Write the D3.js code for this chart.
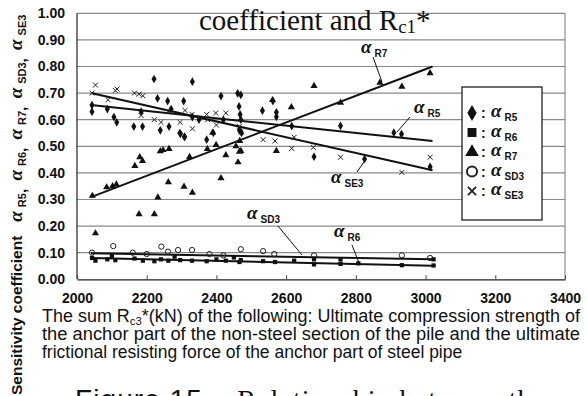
<!DOCTYPE html>
<html><head><meta charset="utf-8">
<script src="https://cdn.jsdelivr.net/npm/d3@7"></script>
<style>body{margin:0;background:#fff}svg{display:block}</style>
</head><body>
<svg id="c" width="587" height="396"></svg>
<script>
// ---------- data ----------
const xTicks = [2000, 2200, 2400, 2600, 2800, 3000, 3200, 3400];
const yTicks = [0, 0.1, 0.2, 0.3, 0.4, 0.5, 0.6, 0.7, 0.8, 0.9, 1.0];

const r5Points = [[2043,0.63],[2087,0.64],[2106,0.61],[2114,0.59],[2163,0.574],[2188,0.574],[2184,0.63],[2221,0.753],[2231,0.68],[2239,0.56],[2260,0.67],[2264,0.574],[2270,0.64],[2295,0.55],[2306,0.67],[2308,0.535],[2331,0.743],[2331,0.61],[2350,0.60],[2372,0.525],[2391,0.55],[2413,0.689],[2420,0.60],[2461,0.699],[2470,0.693],[2465,0.65],[2468,0.62],[2470,0.60],[2466,0.56],[2472,0.55],[2532,0.634],[2562,0.67],[2572,0.628],[2572,0.611],[2616,0.576],[2756,0.577],[2909,0.551],[2931,0.546],[2680,0.461],[2825,0.452],[3013,0.423],[2297,0.547],[2309,0.536],[2043,0.655]];
const r6Points = [[2043,0.08],[2053,0.07],[2087,0.075],[2110,0.072],[2165,0.078],[2189,0.07],[2222,0.068],[2241,0.075],[2262,0.07],[2296,0.072],[2330,0.07],[2372,0.068],[2400,0.075],[2427,0.07],[2466,0.065],[2470,0.072],[2534,0.068],[2568,0.065],[2623,0.07],[2680,0.056],[2756,0.058],[2807,0.06],[2932,0.053],[3023,0.052],[2100,0.088],[2280,0.085],[2450,0.082],[2680,0.075],[2756,0.075],[3023,0.075]];
const r7Points = [[2044,0.314],[2053,0.173],[2085,0.346],[2102,0.35],[2113,0.357],[2166,0.426],[2180,0.459],[2188,0.445],[2178,0.245],[2222,0.245],[2232,0.308],[2239,0.482],[2247,0.486],[2264,0.49],[2262,0.365],[2307,0.348],[2331,0.326],[2323,0.46],[2374,0.49],[2399,0.505],[2413,0.38],[2427,0.467],[2456,0.50],[2466,0.48],[2470,0.483],[2462,0.44],[2467,0.52],[2389,0.551],[2561,0.674],[2615,0.647],[2572,0.483],[2680,0.727],[2756,0.664],[2869,0.739],[2932,0.724],[3013,0.775]];
const sd3Points = [[2043,0.10],[2104,0.125],[2160,0.10],[2200,0.095],[2242,0.123],[2261,0.104],[2290,0.11],[2330,0.11],[2380,0.095],[2420,0.09],[2470,0.113],[2534,0.106],[2566,0.095],[2680,0.09],[2932,0.09],[3013,0.08]];
const se3Points = [[2043,0.70],[2053,0.73],[2089,0.675],[2110,0.71],[2115,0.715],[2165,0.70],[2178,0.696],[2189,0.69],[2184,0.616],[2222,0.60],[2241,0.59],[2262,0.63],[2296,0.59],[2310,0.635],[2330,0.62],[2331,0.566],[2372,0.62],[2375,0.60],[2398,0.625],[2400,0.58],[2427,0.625],[2466,0.575],[2470,0.554],[2534,0.525],[2568,0.52],[2623,0.534],[2616,0.492],[2678,0.496],[2756,0.459],[2932,0.402],[3013,0.459]];

const trendR5  = [[2040,0.655],[3020,0.52]];
const trendR6  = [[2040,0.080],[3020,0.051]];
const trendR7  = [[2040,0.309],[3020,0.80]];
const trendSD3 = [[2040,0.098],[3020,0.075]];
const trendSE3 = [[2040,0.700],[3020,0.41]];

const legendKeys = ["R5","R6","R7","SD3","SE3"];

// ---------- drawing ----------
const svg = d3.select("#c");
svg.append("rect").attr("width",587).attr("height",396).attr("fill","#fff");

const x = d3.scaleLinear().domain([2000,3400]).range([77,565]);
const y = d3.scaleLinear().domain([0,1]).range([279.3,13.3]);

const sans = "'Liberation Sans', Arial, sans-serif";
const serif = "'Liberation Serif', 'Times New Roman', serif";

// gridlines
svg.append("g").selectAll("line").data(yTicks.filter(d=>d>0)).join("line")
  .attr("x1",x(2000)).attr("x2",x(3400)).attr("y1",d=>y(d)).attr("y2",d=>y(d))
  .attr("stroke","#8a8a8a").attr("stroke-width",1.2);

// frame
svg.append("line").attr("x1",x(3400)).attr("x2",x(3400)).attr("y1",y(1)).attr("y2",y(0)).attr("stroke","#777").attr("stroke-width",1);
svg.append("line").attr("x1",x(2000)).attr("x2",x(2000)).attr("y1",y(1)).attr("y2",y(0)).attr("stroke","#333").attr("stroke-width",1.3);

// x axis
const xAxis = d3.axisBottom(x).tickValues(xTicks).tickSizeInner(-4).tickSizeOuter(0).tickPadding(14).tickFormat(d3.format("d"));
const gx = svg.append("g").attr("transform",`translate(0,${y(0)})`).call(xAxis);
gx.select(".domain").attr("stroke","#222").attr("stroke-width",1.3);
gx.selectAll(".tick line").attr("stroke","#444");
gx.selectAll(".tick text").attr("font-family",sans).attr("font-weight","bold").attr("font-size",14).attr("fill","#111");

// y axis labels
const yAxis = d3.axisLeft(y).tickValues(yTicks).tickSize(0).tickPadding(12).tickFormat(d3.format(".2f"));
const gy = svg.append("g").attr("transform",`translate(${x(2000)},0)`).call(yAxis);
gy.select(".domain").remove();
gy.selectAll(".tick text").attr("font-family",sans).attr("font-weight","bold").attr("font-size",14).attr("fill","#111");

// trend lines
const line = d3.line().x(d=>x(d[0])).y(d=>y(d[1]));
[trendR5,trendR6,trendR7,trendSD3,trendSE3].forEach(t=>{
  svg.append("path").attr("d",line(t)).attr("fill","none").attr("stroke","#111").attr("stroke-width",2);
});

// markers
function sym(type,size){return d3.symbol().type(type).size(size)();}
const markerDefs = {
  R5: {type:d3.symbolDiamond, size:22, fill:"#111", stroke:"none"},
  R6: {type:d3.symbolSquare, size:18, fill:"#111", stroke:"none"},
  R7: {type:d3.symbolTriangle, size:22, fill:"#111", stroke:"none"},
  SD3:{type:d3.symbolCircle, size:22, fill:"none", stroke:"#222"},
  SE3:{type:d3.symbolTimes, size:18, fill:"none", stroke:"#222"}
};
const seriesPts = {R5:r5Points,R6:r6Points,R7:r7Points,SD3:sd3Points,SE3:se3Points};
["R7","SD3","R6","SE3","R5"].forEach(k=>{
  const m = markerDefs[k];
  svg.append("g").selectAll("path").data(seriesPts[k]).join("path")
    .attr("transform",d=>`translate(${x(d[0])},${y(d[1])})`)
    .attr("d",sym(m.type,m.size)).attr("fill",m.fill).attr("stroke",m.stroke).attr("stroke-width",1);
});

// alpha label helper
function alphaLabel(g, px, py, sub, size){
  const t = g.append("text").attr("x",px).attr("y",py).attr("fill","#111");
  t.append("tspan").attr("font-family",serif).attr("font-style","italic").attr("font-weight","bold").attr("font-size",size||19).text("α");
  t.append("tspan").attr("font-family",sans).attr("font-weight","bold").attr("font-size",10).attr("dx",3).attr("dy",4).text(sub);
  return t;
}

// annotations
const ann = svg.append("g");
alphaLabel(ann, 361, 53, "R7");
ann.append("line").attr("x1",373).attr("y1",57).attr("x2",382).attr("y2",82).attr("stroke","#111").attr("stroke-width",1);
alphaLabel(ann, 414, 113, "R5");
ann.append("line").attr("x1",410).attr("y1",117).attr("x2",397).attr("y2",132).attr("stroke","#111").attr("stroke-width",1);
alphaLabel(ann, 331, 183, "SE3");
ann.append("line").attr("x1",357).attr("y1",172).attr("x2",366).attr("y2",159).attr("stroke","#111").attr("stroke-width",1);
alphaLabel(ann, 247, 219, "SD3");
ann.append("line").attr("x1",278).attr("y1",226).attr("x2",302).attr("y2",255).attr("stroke","#111").attr("stroke-width",1);
alphaLabel(ann, 334, 237, "R6");
ann.append("line").attr("x1",352).attr("y1",245).attr("x2",359).attr("y2",263).attr("stroke","#111").attr("stroke-width",1);

// legend
const lg = svg.append("g");
lg.append("rect").attr("x",462).attr("y",87).attr("width",80).attr("height",133).attr("fill","#fff").attr("stroke","#222").attr("stroke-width",1.3);
const legendSizes = {R5:75,R6:80,R7:80,SD3:80,SE3:45};
legendKeys.forEach((k,i)=>{
  const cy = 113 + i*19.5;
  const m = markerDefs[k];
  lg.append("path").attr("transform",`translate(472,${cy})`).attr("d",sym(m.type,legendSizes[k]))
    .attr("fill",m.fill).attr("stroke",m.stroke).attr("stroke-width",k==="SD3"?2:1.8);
  lg.append("text").attr("x",481).attr("y",cy+5).attr("font-family",sans).attr("font-weight","bold").attr("font-size",14).attr("fill","#111").text(":");
  alphaLabel(lg, 491, cy+4, k);
});

// title (partially visible)
const tt = svg.append("text").attr("x",199).attr("y",30).attr("font-family",serif).attr("font-size",29).attr("fill","#111");
tt.append("tspan").text("coefficient and R");
tt.append("tspan").attr("font-size",19).attr("dy",3).text("c1");
tt.append("tspan").attr("dy",-3).text("*");

// y axis title
const yt = svg.append("text").attr("transform","translate(22,395) rotate(-90)").attr("fill","#111");
yt.append("tspan").attr("font-family",sans).attr("font-weight","bold").attr("font-size",15.5).text("Sensitivity coefficient");
legendKeys.forEach((k,i)=>{
  yt.append("tspan").attr("font-family",serif).attr("font-style","italic").attr("font-weight","bold").attr("font-size",19)
    .attr("dx",i===0?14:0).attr("dy",i===0?0:-4).text("α");
  yt.append("tspan").attr("font-family",sans).attr("font-weight","bold").attr("font-size",11).attr("dx",4).attr("dy",4).text(k);
  if(i<legendKeys.length-1) yt.append("tspan").attr("font-family",sans).attr("font-weight","bold").attr("font-size",15).text(",\u00a0\u00a0");
});

// x description
const d1 = svg.append("text").attr("x",42).attr("y",322).attr("font-family",sans).attr("font-size",17.5).attr("fill","#111")
  .attr("textLength",538).attr("lengthAdjust","spacingAndGlyphs");
d1.append("tspan").text("The sum R");
d1.append("tspan").attr("font-size",11).attr("dy",3).text("c3");
d1.append("tspan").attr("dy",-3).text("*(kN) of the following: Ultimate compression strength of");
svg.append("text").attr("x",42).attr("y",340).attr("font-family",sans).attr("font-size",17.5).attr("fill","#111")
  .attr("textLength",538).attr("lengthAdjust","spacingAndGlyphs")
  .text("the anchor part of the non-steel section of the pile and the ultimate");
svg.append("text").attr("x",42).attr("y",358).attr("font-family",sans).attr("font-size",17.5).attr("fill","#111")
  .text("frictional resisting force of the anchor part of steel pipe");

// figure caption (cut off at the bottom edge)
const fc = svg.append("text").attr("x",75).attr("y",409).attr("font-size",28).attr("fill","#111")
  .attr("textLength",470).attr("lengthAdjust","spacing");
fc.append("tspan").attr("font-family",sans).text("Figure 15 \u2013 ");
fc.append("tspan").attr("font-family",serif).text("Relationship between the");
</script>
</body></html>
